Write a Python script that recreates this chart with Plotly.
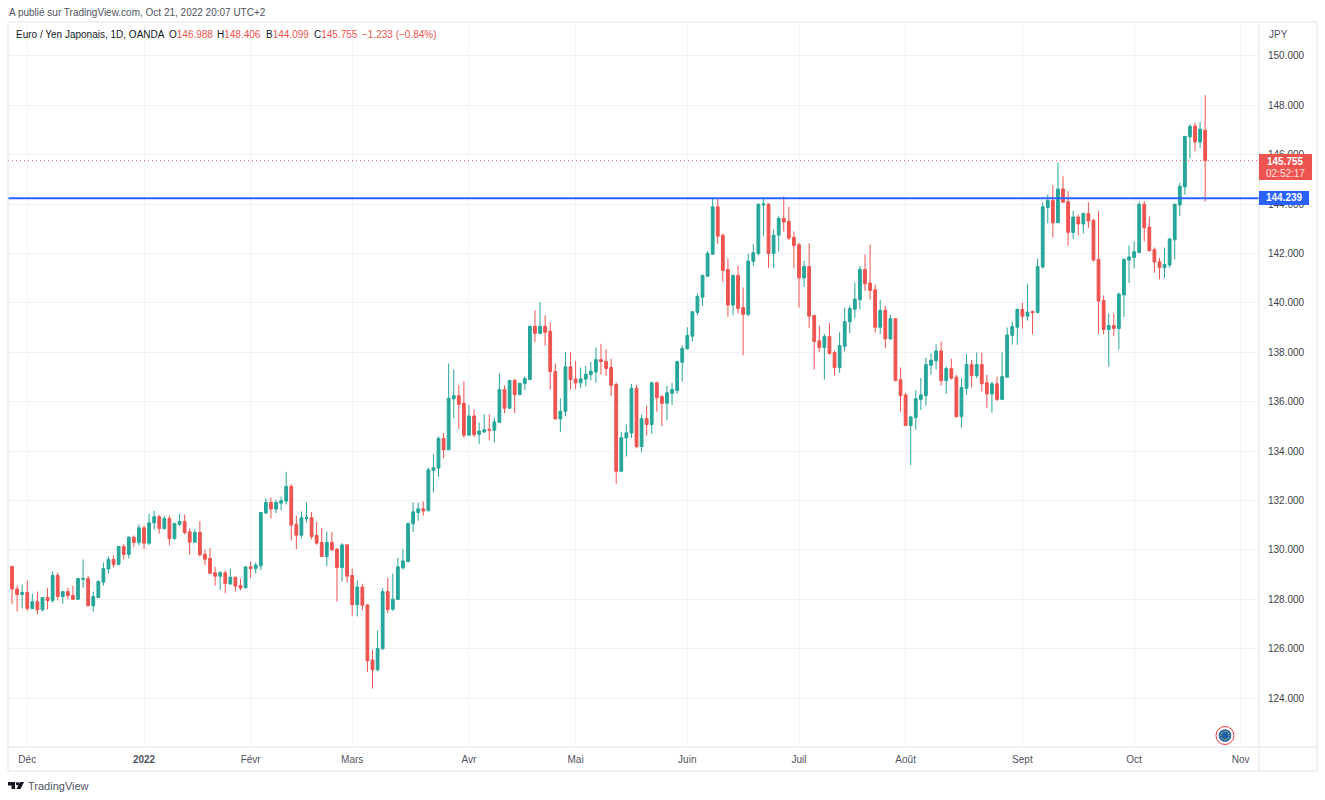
import math
import plotly.graph_objects as go

opens = [129.32,128.41,128.19,128.27,127.62,127.9,127.57,128.07,127.95,128.96,
128.11,128.31,128.15,128.0,128.8,128.84,127.73,128.07,128.69,129.22,
129.61,129.41,130.14,129.81,130.51,130.3,130.89,130.27,131.09,131.34,
130.86,131.27,130.45,131.03,131.15,130.73,130.31,130.7,129.82,129.65,
129.07,128.93,129.07,128.62,128.89,128.55,128.46,129.31,129.24,129.35,
131.49,131.92,131.65,131.89,131.97,132.57,131.03,130.59,131.27,131.3,
130.58,130.3,129.73,130.3,130.03,129.28,130.2,128.96,127.78,128.49,
127.77,125.54,125.14,125.99,128.31,127.59,127.99,129.27,129.52,131.05,
131.51,131.66,131.58,133.22,133.31,134.51,134.05,136.11,136.24,135.93,
134.64,135.42,134.68,134.77,134.88,134.84,135.16,136.49,135.73,136.86,
136.28,136.73,136.89,139.05,138.76,139.05,138.85,137.22,135.3,135.61,
137.41,136.92,136.76,136.91,137.09,137.2,137.7,137.63,137.38,136.69,
133.18,134.53,134.73,136.54,134.18,135.31,135.07,136.76,136.2,135.93,
136.34,136.45,137.59,138.14,138.65,139.61,140.23,141.08,141.97,143.89,
142.73,141.35,139.91,141.11,139.81,139.53,141.68,142.0,143.96,143.99,
142.0,142.74,143.42,143.3,142.65,142.35,141.01,141.47,139.49,138.46,
138.19,138.64,137.99,137.38,138.24,139.23,139.74,140.12,141.35,140.8,
140.53,139.01,139.7,138.54,139.36,136.89,136.27,135.03,135.35,136.09,
136.24,137.47,137.65,138.05,136.85,137.34,136.99,135.39,136.54,137.5,
137.05,137.5,136.76,136.31,136.72,136.09,136.99,138.68,139.01,139.73,
139.46,139.65,139.6,141.45,143.86,144.14,143.24,144.61,144.09,142.85,
143.47,143.19,143.62,143.34,141.76,140.09,138.92,139.08,138.96,140.32,
141.73,141.84,142.04,143.99,143.07,142.15,141.66,141.42,141.53,142.55,
143.96,144.69,146.72,147.15,146.51,146.988]

closes = [128.41,128.19,128.27,127.62,127.9,127.57,128.07,127.95,128.96,128.11,
128.31,128.15,128.0,128.84,128.84,127.73,128.11,128.72,129.24,129.61,
129.41,130.14,129.81,130.51,130.3,130.89,130.27,131.09,131.34,130.86,
131.27,130.45,131.07,131.15,130.7,130.31,130.7,129.8,129.62,129.05,
128.93,129.07,128.64,128.89,128.53,128.45,129.31,129.24,129.38,131.51,
131.92,131.65,131.92,131.99,132.57,131.0,130.59,131.3,131.31,130.54,
130.27,129.73,130.3,130.0,129.28,130.2,128.93,127.78,128.49,127.76,
125.51,125.14,126.01,128.31,127.59,128.0,129.31,129.55,131.07,131.54,
131.66,131.57,133.24,133.32,134.51,134.05,136.14,136.24,135.89,134.64,
135.42,134.66,134.81,134.86,134.84,135.18,136.49,135.73,136.86,136.28,
136.74,136.93,139.05,138.76,139.05,138.81,137.22,135.3,135.61,137.41,
136.89,136.76,136.92,137.11,137.23,137.7,137.62,137.34,136.66,133.18,
134.54,134.74,136.54,134.18,135.31,135.07,136.76,136.16,135.93,136.36,
136.49,137.62,138.15,138.68,139.64,140.26,141.11,142.0,143.89,142.7,
141.31,139.91,141.11,139.77,139.53,141.69,142.03,143.99,144.0,142.0,
142.74,143.42,143.27,142.62,142.32,141.01,141.47,139.46,138.43,138.19,
138.64,137.95,137.38,138.27,139.24,139.77,140.15,141.35,140.77,140.5,
139.01,139.7,138.54,139.36,136.85,136.24,135.03,135.38,136.12,136.27,
137.5,137.68,138.05,136.85,137.34,136.95,135.39,136.57,137.5,137.05,
137.5,136.73,136.31,136.72,136.09,137.01,138.7,139.04,139.73,139.46,
139.62,139.6,141.47,143.89,144.14,143.24,144.61,144.07,142.85,143.47,
143.19,143.62,143.31,141.73,140.07,138.92,139.08,138.96,140.35,141.76,
141.86,142.07,143.99,143.04,142.11,141.65,141.43,141.55,142.58,143.99,
144.72,146.74,147.15,146.51,147.03,145.755]

highs = [129.36,128.55,128.6,128.76,128.22,128.31,128.08,128.46,129.12,129.08,
128.31,128.46,128.55,128.84,129.61,128.95,128.31,128.76,129.49,129.73,
129.77,130.14,130.22,130.54,130.58,131.03,130.97,131.46,131.58,131.42,
131.38,131.38,131.09,131.46,131.43,130.86,130.82,131.16,130.0,130.07,
129.31,129.14,129.16,129.24,128.89,128.84,129.31,129.53,129.49,131.54,
132.09,132.12,132.03,132.16,133.16,132.65,131.38,131.55,131.92,131.53,
131.14,130.89,130.74,130.72,130.05,130.27,130.2,129.24,128.76,128.62,
127.78,125.95,126.73,128.46,128.86,129.04,129.68,130.04,131.1,131.92,
131.92,131.96,133.32,133.86,134.59,134.73,137.54,137.3,136.66,136.82,
135.86,135.69,135.15,135.49,135.49,135.35,137.14,136.66,136.86,136.93,
136.76,137.03,139.08,139.7,140.03,139.5,139.22,137.54,136.14,138.0,
138.0,137.65,137.38,137.45,137.61,138.19,138.34,138.12,137.74,136.78,
134.77,135.07,136.72,136.68,135.47,135.84,136.81,136.81,136.27,136.64,
136.76,137.66,138.27,139.01,139.65,140.38,141.14,142.11,144.24,144.24,
142.81,141.8,141.14,141.51,140.62,141.99,142.38,144.03,144.26,144.03,
142.97,143.51,144.3,143.89,142.89,142.43,141.7,142.41,139.51,139.08,
138.74,139.19,138.07,138.81,139.81,139.89,140.82,141.49,141.96,142.35,
140.74,140.12,139.88,139.51,139.36,137.38,136.36,135.43,136.45,136.96,
137.78,137.95,138.32,138.43,137.42,137.74,137.08,136.96,137.92,137.69,
137.99,137.99,137.09,136.8,137.01,137.99,139.0,139.24,139.77,140.0,
140.77,139.68,141.8,144.07,144.38,144.76,145.68,145.12,144.51,143.72,
143.57,143.66,144.07,143.4,143.72,140.3,139.57,139.57,140.42,141.8,
142.32,142.49,144.09,144.12,143.49,142.24,141.82,142.24,142.64,144.01,
144.86,146.74,147.23,147.3,147.32,148.406]

lows = [127.8,127.5,127.63,127.54,127.6,127.39,127.51,127.59,127.86,127.95,
127.81,128.0,127.97,127.97,128.46,127.73,127.5,128.07,128.55,129.04,
129.28,129.36,129.61,129.65,130.11,130.18,130.03,130.19,130.81,130.65,
130.82,130.18,130.41,130.97,130.62,129.8,130.28,129.73,129.38,129.03,
128.55,128.38,128.24,128.58,128.31,128.36,128.45,128.86,129.04,129.18,
131.45,131.27,131.49,131.61,131.84,130.38,130.03,130.46,131.11,130.42,
130.2,129.73,129.34,129.95,127.91,128.72,128.69,127.34,127.3,127.55,
125.05,124.38,125.08,125.97,127.43,127.53,127.99,129.2,129.5,130.72,
131.18,131.38,131.58,132.32,132.95,133.7,134.04,135.32,134.89,134.53,
134.64,134.57,134.28,134.73,134.43,134.35,135.14,135.53,135.7,135.53,
136.27,136.46,136.89,138.41,138.73,138.27,136.49,135.27,134.76,135.41,
136.49,136.51,136.54,136.62,136.86,136.76,137.09,137.05,136.22,132.68,
133.15,133.78,134.53,134.11,133.95,134.62,134.7,135.59,135.0,135.24,
135.86,136.32,136.81,138.11,138.43,139.49,139.88,141.05,141.95,142.38,
140.84,139.43,139.5,139.57,137.88,139.46,141.49,141.92,142.7,141.42,
141.42,142.08,142.89,142.54,141.39,139.81,140.64,138.99,137.3,138.01,
136.89,137.91,137.05,137.16,138.03,138.77,139.39,139.73,140.47,140.14,
138.8,138.74,138.15,138.49,136.82,135.59,135.03,133.42,134.86,135.65,
135.84,137.09,137.3,136.65,136.32,136.89,135.36,134.96,136.28,136.58,
136.95,136.41,135.74,135.55,136.03,136.09,136.99,138.3,138.3,138.95,
139.28,138.72,139.6,141.39,143.22,142.65,143.24,144.07,142.31,142.58,
142.73,142.81,143.03,141.68,138.74,138.72,137.41,138.65,138.11,139.43,
140.81,141.39,142.03,142.49,142.08,141.22,140.95,141.01,141.42,141.76,
143.51,144.38,145.85,146.14,146.27,144.099]

month_ticks = [3, 26, 47, 67, 90, 111, 133, 155, 176, 199, 221, 242]
month_labels = ["Déc", "<b>2022</b>", "Févr", "Mars", "Avr", "Mai", "Juin", "Juil", "Août", "Sept", "Oct", "Nov"]
price_ticks = [124, 126, 128, 130, 132, 134, 136, 138, 140, 142, 144, 146, 148, 150]
support_level = 144.239
last_price = 145.755
countdown = "02:52:17"

W, H = 1325, 800
L, R, T, B = 8, 1259, 22, 747
UP, DOWN, BLUE, GRID, FRAME, TXT = "#26a69a", "#ef5350", "#2962ff", "#f2f3f6", "#e0e3eb", "#131722"
FONT = "Liberation Sans"


def px(x):
    return (x - L) / (R - L)


def py(y):
    return 1 - (y - T) / (B - T)


def rect(x0, y0, x1, y1, fill=None, line=None, layer="above", kind="rect"):
    return dict(type=kind, xref="paper", yref="paper", x0=px(x0), x1=px(x1), y0=py(y0), y1=py(y1),
                fillcolor=fill or "rgba(0,0,0,0)", line=dict(color=line or "rgba(0,0,0,0)", width=1 if line else 0), layer=layer)


def label(x, y, text, size=10, color=TXT, anchor="left"):
    return dict(xref="paper", yref="paper", x=px(x), y=py(y), text=text, showarrow=False, xanchor=anchor, yanchor="middle",
                font=dict(family=FONT, size=size, color=color), borderpad=0, align="left")


def to_paper_path(points):
    d = ""
    for i, (a, b) in enumerate(points):
        d += ("M" if i == 0 else "L") + f"{px(a):.5f},{py(b):.5f} "
    return d + "Z"


fig = go.Figure(go.Candlestick(
    x=list(range(len(opens))), open=opens, high=highs, low=lows, close=closes,
    increasing=dict(line=dict(color=UP, width=1), fillcolor=UP),
    decreasing=dict(line=dict(color=DOWN, width=1), fillcolor=DOWN),
    whiskerwidth=0, showlegend=False,
))

shapes = [
    dict(type="line", xref="paper", yref="y", x0=0, x1=1, y0=last_price, y1=last_price,
         line=dict(color=DOWN, width=1, dash="1px,3px"), layer="above"),
    dict(type="line", xref="paper", yref="y", x0=0, x1=1, y0=support_level, y1=support_level,
         line=dict(color=BLUE, width=2), layer="above"),
    rect(8, 22, 1317, 771, line=FRAME),
    dict(type="line", xref="paper", yref="paper", x0=px(1259), x1=px(1259), y0=py(22), y1=py(771), line=dict(color=FRAME, width=1)),
    dict(type="line", xref="paper", yref="paper", x0=px(8), x1=px(1317), y0=py(747), y1=py(747), line=dict(color=FRAME, width=1)),
    rect(1259, 154, 1312, 180, fill=DOWN),
    rect(1259, 191, 1309, 205, fill=BLUE),
    # flag marker
    rect(1216, 726.5, 1234, 744.5, fill="#ffffff", line="#f23645", kind="circle"),
    rect(1218.7, 729.2, 1231.3, 741.8, fill="#1d5fa8", kind="circle"),
    # TradingView logo
    dict(type="path", xref="paper", yref="paper", layer="above", fillcolor=TXT, line=dict(width=0),
         path=to_paper_path([(8, 782), (15, 782), (15, 789), (11.5, 789), (11.5, 785.5), (8, 785.5)])),
    dict(type="path", xref="paper", yref="paper", layer="above", fillcolor=TXT, line=dict(width=0),
         path=to_paper_path([(24, 782), (20.5, 789), (16.5, 789), (20, 782)])),
    rect(15.8, 782, 19.2, 785.4, fill=TXT, kind="circle"),
]
for k in range(12):
    cx = 1225 + 4.2 * math.cos(k * math.pi / 6)
    cy = 735.5 + 4.2 * math.sin(k * math.pi / 6)
    shapes.append(rect(cx - 0.6, cy - 0.6, cx + 0.6, cy + 0.6, fill="#f5d33a", kind="circle"))

red = f'<span style="color:{DOWN}">'
annotations = [
    label(8, 12.5, "A publié sur TradingView.com, Oct 21, 2022 20:07 UTC+2", color="#50535e"),
    label(15, 35, "Euro / Yen Japonais, 1D, OANDA"),
    label(168, 35, f"O{red}146.988</span>"),
    label(216, 35, f"H{red}148.406</span>"),
    label(265, 35, f"B{red}144.099</span>"),
    label(313, 35, f"C{red}145.755</span>"),
    label(361, 35, "−1.233 (−0.84%)", color=DOWN),
    label(1268, 34, "JPY", color="#50535e"),
    label(1285.5, 161, f"<b>{last_price:.3f}</b>", color="#ffffff", anchor="center"),
    label(1285.5, 173, countdown, color="#fde3e2", anchor="center"),
    label(1284, 198, f"<b>{support_level:.3f}</b>", color="#ffffff", anchor="center"),
    label(27, 785.5, "TradingView", size=11, color="#50535e"),
]

fig.update_layout(
    width=W, height=H, autosize=False,
    margin=dict(l=L, r=W - R, t=T, b=H - B, pad=0),
    paper_bgcolor="#ffffff", plot_bgcolor="#ffffff", boxgap=0.22,
    font=dict(family=FONT, size=10, color=TXT),
    showlegend=False, shapes=shapes, annotations=annotations,
    xaxis=dict(range=[-0.79, 245.6], tickmode="array", tickvals=month_ticks, ticktext=month_labels,
               showgrid=True, gridcolor=GRID, gridwidth=1, zeroline=False, showline=False,
               rangeslider=dict(visible=False), ticks="outside", ticklen=3, tickcolor="rgba(0,0,0,0)",
               tickfont=dict(family=FONT, size=10, color="#50535e")),
    yaxis=dict(range=[122.016, 151.37], side="right", tickmode="array", tickvals=price_ticks,
               ticktext=[f"{v:.3f}" for v in price_ticks], showgrid=True, gridcolor=GRID, gridwidth=1,
               zeroline=False, showline=False, ticks="outside", ticklen=6, tickcolor="rgba(0,0,0,0)",
               tickfont=dict(family=FONT, size=10, color="#3c3f48")),
)

fig.write_html("out.html", config=dict(displayModeBar=False), post_script="document.body.style.margin='0';")
